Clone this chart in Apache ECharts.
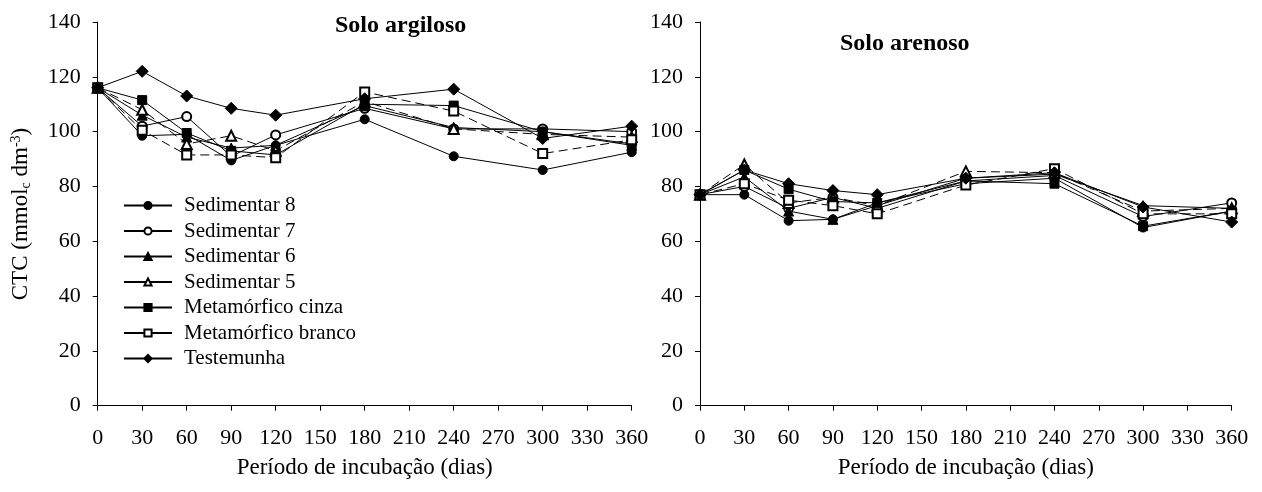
<!DOCTYPE html>
<html>
<head>
<meta charset="utf-8">
<script src="https://cdn.jsdelivr.net/npm/echarts@6/dist/echarts.min.js"></script>
<style>
html,body{margin:0;padding:0;background:#fff;}
#chart{width:1262px;height:492px;}
</style>
</head>
<body>
<div id="chart"></div>
<script>
var days = [0, 30, 60, 90, 120, 180, 240, 300, 360];
var xTicks = [0, 30, 60, 90, 120, 150, 180, 210, 240, 270, 300, 330, 360];
var seriesNames = ["Sedimentar 8", "Sedimentar 7", "Sedimentar 6", "Sedimentar 5", "Metamórfico cinza", "Metamórfico branco", "Testemunha"];

// Solo argiloso
var argSed8   = [116, 98.5, 99, 89.5, 95, 104.5, 91, 86, 92.5];
var argSed7   = [116, 102, 105.5, 91, 98.8, 108.5, 101, 101, 100];
var argSed6   = [116, 106, 98, 94, 95, 109.5, 101.5, 100, 95];
var argSed5   = [116, 108, 95.5, 98.5, 93, 111, 101, 99, 98];
var argMetCin = [116, 111.5, 99.5, 93, 91.5, 110, 109.5, 100, 95.5];
var argMetBra = [116, 100.5, 91.5, 91.5, 90.5, 114.5, 107.5, 92, 97];
var argTest   = [116, 122, 113, 108.5, 106, 112, 115.5, 97.5, 102];

// Solo arenoso
var areSed8   = [77, 77, 67.5, 68, 74, 81, 83, 65, 71];
var areSed7   = [77, 80, 72, 76, 72, 82, 84, 69, 74];
var areSed6   = [77, 83.5, 71, 68, 73, 83, 84.5, 73, 72];
var areSed5   = [77, 88, 74, 76, 73, 85.5, 85, 71, 72];
var areMetCin = [77, 86, 79, 74.5, 74, 82, 81, 65.5, 71];
var areMetBra = [77, 81, 75, 73, 70, 80.5, 86.5, 70, 70];
var areTest   = [77, 86, 81, 78.5, 77, 83, 85, 72.5, 67];

var argData = [argSed8, argSed7, argSed6, argSed5, argMetCin, argMetBra, argTest];
var areData = [areSed8, areSed7, areSed6, areSed5, areMetCin, areMetBra, areTest];

var symbols = ["circle", "emptyCircle", "triangle", "emptyTriangle", "rect", "emptyRect", "diamond"];
var symSizes = [9, 9, 10, 10, 9, 9, 12];
var dashed = [false, false, false, true, false, true, false];

var FONT = "'Liberation Serif', 'Times New Roman', serif";

function pairs(arr) { return days.map(function (d, i) { return [d, arr[i]]; }); }

var series = [];
[argData, areData].forEach(function (set, gi) {
  set.forEach(function (arr, si) {
    series.push({
      name: seriesNames[si],
      type: "line",
      xAxisIndex: gi,
      yAxisIndex: gi,
      data: pairs(arr),
      symbol: symbols[si],
      symbolSize: symSizes[si],
      showAllSymbol: true,
      itemStyle: { color: "#000", borderColor: "#000", borderWidth: 1 },
      lineStyle: { color: "#000", width: 1, type: dashed[si] ? [9, 5] : "solid" },
      emphasis: { disabled: true },
      animation: false,
      z: 2 + si
    });
  });
});

function xAxis(gi) {
  return {
    gridIndex: gi, type: "value", min: 0, max: 360, interval: 30,
    name: "Período de incubação (dias)", nameLocation: "middle", nameGap: 51,
    nameTextStyle: { fontFamily: FONT, fontSize: 23, color: "#000" },
    axisLine: { lineStyle: { color: "#000", width: 1 } },
    axisTick: { show: true, inside: false, length: 5, lineStyle: { color: "#000" } },
    axisLabel: { fontFamily: FONT, fontSize: 22, color: "#000", margin: 22 },
    splitLine: { show: false }
  };
}
function yAxis(gi) {
  return {
    gridIndex: gi, type: "value", min: 0, max: 140, interval: 20,
    axisLine: { show: true, lineStyle: { color: "#000", width: 1 } },
    axisTick: { show: true, inside: false, length: 5, lineStyle: { color: "#000" } },
    axisLabel: { fontFamily: FONT, fontSize: 22, color: "#000", margin: 17 },
    splitLine: { show: false }
  };
}

var chart = echarts.init(document.getElementById("chart"), null, { renderer: "canvas" });
chart.setOption({
  backgroundColor: "#fff",
  animation: false,
  grid: [
    { left: 97.7, right: 630.3, top: 22, bottom: 86.3 },
    { left: 700, right: 30.3, top: 22, bottom: 86.3 }
  ],
  xAxis: [xAxis(0), xAxis(1)],
  yAxis: [yAxis(0), yAxis(1)],
  legend: {
    data: seriesNames,
    orient: "vertical",
    left: 118, top: 190,
    itemWidth: 48, itemHeight: 9, itemGap: 4.5,
    lineStyle: { type: "solid" },
    textStyle: { fontFamily: FONT, fontSize: 21, color: "#000", padding: [0, 0, 0, 7] },
    selectedMode: false
  },
  graphic: [
    { type: "text", left: 335, top: 14, style: { text: "Solo argiloso", font: "bold 24px " + FONT, fill: "#000" } },
    { type: "text", left: 840, top: 32, style: { text: "Solo arenoso", font: "bold 24px " + FONT, fill: "#000" } },
    {
      type: "text", x: 21, y: 214, rotation: Math.PI / 2,
      style: {
        text: "{a|CTC (mmol}{s|c}{a| dm}{p|-3}{a|)}",
        align: "center", verticalAlign: "middle",
        rich: {
          a: { fontFamily: FONT, fontSize: 23, fill: "#000" },
          s: { fontFamily: FONT, fontSize: 14, fill: "#000", padding: [10, 0, 0, 0] },
          p: { fontFamily: FONT, fontSize: 14, fill: "#000", padding: [0, 0, 10, 0] }
        }
      }
    }
  ],
  series: series
});
</script>
</body>
</html>
